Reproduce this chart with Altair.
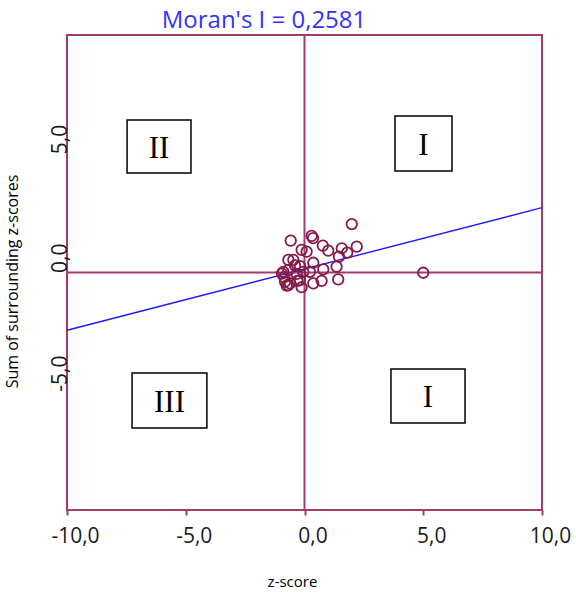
import altair as alt
import pandas as pd

# z-score of each area and sum of surrounding z-scores
z_score = [1.99, -0.58, 0.30, 0.36, 0.77, 1.00, 1.57, 2.20, 1.80, 1.45,
           1.35, 1.42, 5.00, -0.12, 0.09, -0.68, -0.47, 0.37, 0.79, -0.19,
           -0.68, -0.89, -0.95, -0.82, -0.68, -0.61, -0.75, -0.19, -0.12, 0.37,
           0.72, -0.33, -0.05, 0.23, -0.40, -0.85, -0.30]
lag_sum = [2.04, 1.34, 1.54, 1.45, 1.13, 0.92, 1.02, 1.09, 0.84, 0.67,
           0.25, -0.29, -0.01, 0.95, 0.88, 0.53, 0.53, 0.41, 0.13, 0.27,
           0.10, 0.03, -0.05, -0.39, -0.53, -0.46, -0.55, -0.32, -0.62, -0.46,
           -0.35, -0.06, 0.03, 0.03, 0.30, -0.20, -0.35]

# regression line end points
line_x = [-10.0, 10.0]
line_y = [-2.43, 2.73]

# quadrant boxes
quad_label = ["II", "I", "III", "I"]
box_x1 = [-7.47, 3.81, -7.26, 3.64]
box_x2 = [-4.78, 6.21, -4.11, 6.76]
box_y1 = [4.19, 4.27, -6.55, -6.34]
box_y2 = [6.42, 6.59, -4.23, -4.06]

x_ticks = [-10, -5, 0, 5, 10]
y_ticks = [-5, 0, 5]

title_text = "Moran's I = 0,2581"

MAROON = "#a33b6e"
POINT = "#861a4a"

pts = pd.DataFrame({"z": z_score, "lag": lag_sum})
ln = pd.DataFrame({"z": line_x, "lag": line_y})
boxes = pd.DataFrame({"label": quad_label, "x1": box_x1, "x2": box_x2,
                      "y1": box_y1, "y2": box_y2})
boxes["cx"] = (boxes["x1"] + boxes["x2"]) / 2
boxes["cy"] = (boxes["y1"] + boxes["y2"]) / 2
zero = pd.DataFrame({"v": [0.0]})

lab_expr = "replace(replace(format(datum.value, '.1f'), '.', ','), '\u2212', '-')"

xscale = alt.Scale(domain=[-10, 10], nice=False, zero=False)
yscale = alt.Scale(domain=[-10, 10], nice=False, zero=False)

xaxis = alt.Axis(values=x_ticks, grid=False, domain=False, ticks=True, tickSize=5,
                 tickWidth=2, tickColor=MAROON, labelFont="Open Sans", labelFontSize=21,
                 labelColor="#1a1a1a", labelPadding=10, labelFlush=False, labelOffset=8,
                 labelExpr=lab_expr, title="z-score", titleFont="Open Sans",
                 titleFontSize=15, titleFontWeight="normal", titleColor="#000000",
                 titleX=225, titleY=76, titleBaseline="alphabetic", titleAlign="center")
yaxis = alt.Axis(values=y_ticks, grid=False, domain=False, ticks=False, tickSize=0,
                 labelFont="Open Sans", labelFontSize=21, labelColor="#1a1a1a",
                 labelAngle=-90, labelAlign="left", labelBaseline="alphabetic",
                 labelPadding=1, labelFlush=False, labelExpr=lab_expr,
                 title="Sum of surrounding z-scores", titleFont="Open Sans",
                 titleFontSize=16, titleFontWeight="normal", titleColor="#000000",
                 titleAngle=-90, titleX=-50, titleY=246, titleBaseline="alphabetic",
                 titleAlign="center")

vrule = alt.Chart(zero).mark_rule(color=MAROON, strokeWidth=2).encode(
    x=alt.X("v:Q", scale=xscale, axis=xaxis))
hrule = alt.Chart(zero).mark_rule(color=MAROON, strokeWidth=2).encode(
    y=alt.Y("v:Q", scale=yscale, axis=yaxis))

rects = alt.Chart(boxes).mark_rect(fill="white", stroke="black", strokeWidth=1.5).encode(
    x=alt.X("x1:Q", scale=xscale), x2="x2:Q",
    y=alt.Y("y1:Q", scale=yscale), y2="y2:Q")
texts = alt.Chart(boxes).mark_text(font="Liberation Serif", fontSize=31, color="black",
                                   baseline="middle", align="center", dy=2).encode(
    x=alt.X("cx:Q", scale=xscale), y=alt.Y("cy:Q", scale=yscale), text="label:N")

reg = alt.Chart(ln).mark_line(color="#1a1aff", strokeWidth=1.4).encode(
    x=alt.X("z:Q", scale=xscale), y=alt.Y("lag:Q", scale=yscale))

points = alt.Chart(pts).mark_point(shape="circle", filled=False, color=POINT, size=110,
                                   strokeWidth=1.8, opacity=1).encode(
    x=alt.X("z:Q", scale=xscale), y=alt.Y("lag:Q", scale=yscale))

title = alt.Chart(zero).mark_text(font="Open Sans", fontSize=24, color="#3333ff",
                                  align="center", baseline="alphabetic").encode(
    x=alt.value(197), y=alt.value(-7), text=alt.value(title_text))

chart = alt.layer(vrule, hrule, rects, texts, reg, points, title).properties(
    width=475, height=475,
    autosize=alt.AutoSizeParams(type="none"),
    padding={"left": 67, "top": 35, "right": 34, "bottom": 82},
    background="white",
).configure_view(stroke=MAROON, strokeWidth=2)

chart.save("out.html", embed_options={"renderer": "svg", "actions": False})
